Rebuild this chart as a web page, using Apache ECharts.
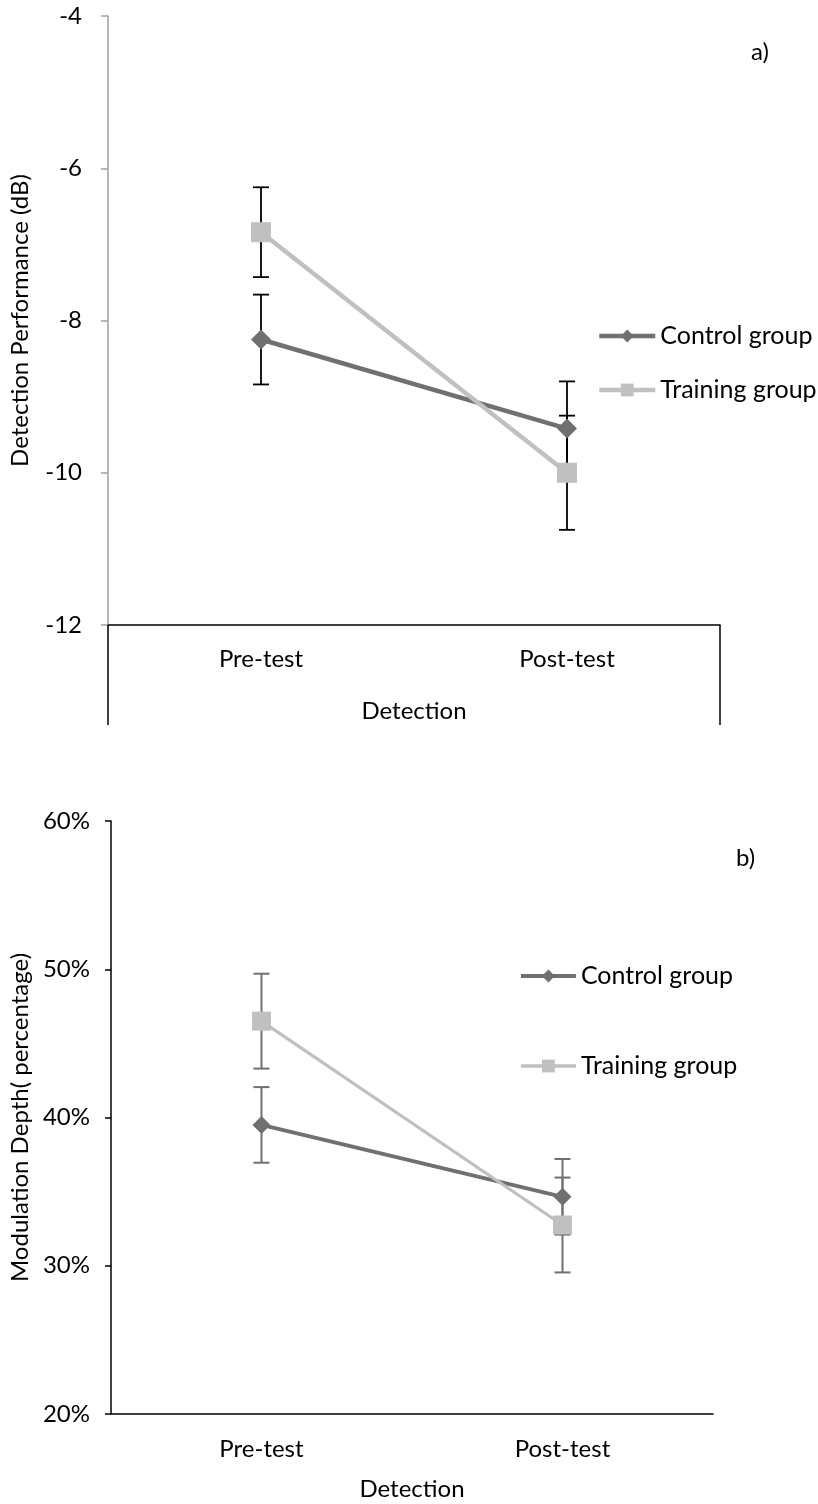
<!DOCTYPE html>
<html>
<head>
<meta charset="utf-8">
<title>Detection and Modulation Depth</title>
<script src="https://cdn.jsdelivr.net/npm/echarts@6/dist/echarts.min.js"></script>
<style>
  html, body { margin: 0; padding: 0; background: #fff; }
  #chart { width: 818px; height: 1504px; }
</style>
</head>
<body>
<div id="chart"></div>
<script>
// Shared categories
const categories = ['Pre-test', 'Post-test'];
const seriesNames = ['Control group', 'Training group'];

// a) Detection performance (dB): means and error half-widths
const detControl = [-8.25, -9.42];
const detControlErr = [0.59, 0.62];
const detTraining = [-6.84, -10.0];
const detTrainingErr = [0.59, 0.75];
const detTicks = { min: -12, max: -4, interval: 2 };

// b) Modulation depth (%): means and error half-widths
const modControl = [39.5, 34.65];
const modControlErr = [2.55, 2.55];
const modTraining = [46.5, 32.75];
const modTrainingErr = [3.2, 3.2];
const modTicks = { min: 20, max: 60, interval: 10 };

const FONT = 'Lato';
const DARK = '#707070';
const LIGHT = '#c0c0c0';

function errorData(mean, err) {
  return mean.map((m, i) => [i, m - err[i], m + err[i]]);
}

function errorBars(color, capHalf, width) {
  return function (params, api) {
    const x = api.value(0);
    const lo = api.coord([x, api.value(1)]);
    const hi = api.coord([x, api.value(2)]);
    const style = { stroke: color, lineWidth: width };
    return {
      type: 'group',
      children: [
        { type: 'line', shape: { x1: lo[0], y1: lo[1], x2: hi[0], y2: hi[1] }, style },
        { type: 'line', shape: { x1: lo[0] - capHalf, y1: lo[1], x2: lo[0] + capHalf, y2: lo[1] }, style },
        { type: 'line', shape: { x1: hi[0] - capHalf, y1: hi[1], x2: hi[0] + capHalf, y2: hi[1] }, style }
      ]
    };
  };
}

const textBase = { fontFamily: FONT, fontSize: 24, color: '#000' };
const legendText = { fontFamily: FONT, fontSize: 25, color: '#000', lineHeight: 28 };

const chart = echarts.init(document.getElementById('chart'), null, { renderer: 'canvas' });

chart.setOption({
  backgroundColor: '#fff',
  animation: false,
  title: [
    { text: 'a)', left: 751, top: 40, padding: 0, textStyle: Object.assign({}, textBase, { fontWeight: 'normal' }) },
    { text: 'b)', left: 736, top: 846, padding: 0, textStyle: Object.assign({}, textBase, { fontWeight: 'normal' }) }
  ],
  legend: [
    {
      orient: 'vertical', left: 597, top: 322, padding: 0, itemWidth: 56, itemHeight: 16, itemGap: 26,
      textStyle: legendText,
      data: [
        { name: seriesNames[0], lineStyle: { width: 4.5, color: DARK } },
        { name: seriesNames[1], lineStyle: { width: 4.5, color: LIGHT } }
      ]
    },
    {
      orient: 'vertical', left: 519, top: 962, padding: 0, itemWidth: 55, itemHeight: 16, itemGap: 62,
      textStyle: legendText,
      data: [
        { name: seriesNames[0], lineStyle: { width: 3.8, color: DARK } },
        { name: seriesNames[1], lineStyle: { width: 3.5, color: LIGHT } }
      ]
    }
  ],
  grid: [
    { left: 107, top: 16, width: 613, height: 609 },
    { left: 102, top: 821, width: 611, height: 593 }
  ],
  xAxis: [
    {
      type: 'category', gridIndex: 0, data: categories, boundaryGap: true,
      name: 'Detection', nameLocation: 'middle', nameGap: 74,
      nameTextStyle: textBase,
      axisLine: { lineStyle: { color: '#000', width: 1.5 } },
      axisTick: { show: true, length: 100, interval: (i) => i === 0, lineStyle: { color: '#000', width: 1.5 } },
      axisLabel: Object.assign({ margin: 22 }, textBase)
    },
    {
      type: 'category', gridIndex: 1, data: categories, boundaryGap: true,
      name: 'Detection', nameLocation: 'middle', nameGap: 63,
      nameTextStyle: textBase,
      axisLine: { lineStyle: { color: '#000', width: 1.5 } },
      axisTick: { show: false },
      axisLabel: Object.assign({ margin: 23 }, textBase)
    }
  ],
  yAxis: [
    {
      type: 'value', gridIndex: 0, min: detTicks.min, max: detTicks.max, interval: detTicks.interval,
      name: 'Detection Performance (dB)', nameLocation: 'middle', nameGap: 76,
      nameTextStyle: textBase,
      axisLine: { show: true, lineStyle: { color: '#a0a0a0', width: 1.5 } },
      axisTick: { show: true, length: 7, lineStyle: { color: '#a0a0a0', width: 1.5 } },
      axisLabel: Object.assign({ margin: 26 }, textBase),
      splitLine: { show: false }
    },
    {
      type: 'value', gridIndex: 1, min: modTicks.min, max: modTicks.max, interval: modTicks.interval,
      name: 'Modulation Depth( percentage)', nameLocation: 'middle', nameGap: 70,
      nameTextStyle: textBase,
      axisLine: { show: true, lineStyle: { color: '#000', width: 1.5 } },
      axisTick: { show: true, length: 6, lineStyle: { color: '#000', width: 1.5 } },
      axisLabel: Object.assign({ margin: 21, formatter: '{value}%' }, textBase),
      splitLine: { show: false }
    }
  ],
  series: [
    // error bars, drawn beneath the lines and markers
    { type: 'custom', name: 'det-control-err', xAxisIndex: 0, yAxisIndex: 0, z: 1,
      renderItem: errorBars('#000', 8, 1.8), data: errorData(detControl, detControlErr) },
    { type: 'custom', name: 'det-training-err', xAxisIndex: 0, yAxisIndex: 0, z: 1,
      renderItem: errorBars('#000', 8, 1.8), data: errorData(detTraining, detTrainingErr) },
    { type: 'custom', name: 'mod-control-err', xAxisIndex: 1, yAxisIndex: 1, z: 1,
      renderItem: errorBars(DARK, 8, 2), data: errorData(modControl, modControlErr) },
    { type: 'custom', name: 'mod-training-err', xAxisIndex: 1, yAxisIndex: 1, z: 1,
      renderItem: errorBars(DARK, 8, 2), data: errorData(modTraining, modTrainingErr) },

    // a) detection
    { type: 'line', name: seriesNames[0], xAxisIndex: 0, yAxisIndex: 0, z: 3,
      data: detControl, symbol: 'diamond', symbolSize: 20,
      lineStyle: { color: DARK, width: 4.5 }, itemStyle: { color: DARK } },
    { type: 'line', name: seriesNames[1], xAxisIndex: 0, yAxisIndex: 0, z: 3,
      data: detTraining, symbol: 'rect', symbolSize: 20,
      lineStyle: { color: LIGHT, width: 4.5 }, itemStyle: { color: LIGHT } },

    // b) modulation depth
    { type: 'line', name: seriesNames[0], xAxisIndex: 1, yAxisIndex: 1, z: 3,
      data: modControl, symbol: 'diamond', symbolSize: 18,
      lineStyle: { color: DARK, width: 3.8 }, itemStyle: { color: DARK } },
    { type: 'line', name: seriesNames[1], xAxisIndex: 1, yAxisIndex: 1, z: 3,
      data: modTraining, symbol: 'rect', symbolSize: 19,
      lineStyle: { color: LIGHT, width: 3.2 }, itemStyle: { color: LIGHT } }
  ]
});
</script>
</body>
</html>
